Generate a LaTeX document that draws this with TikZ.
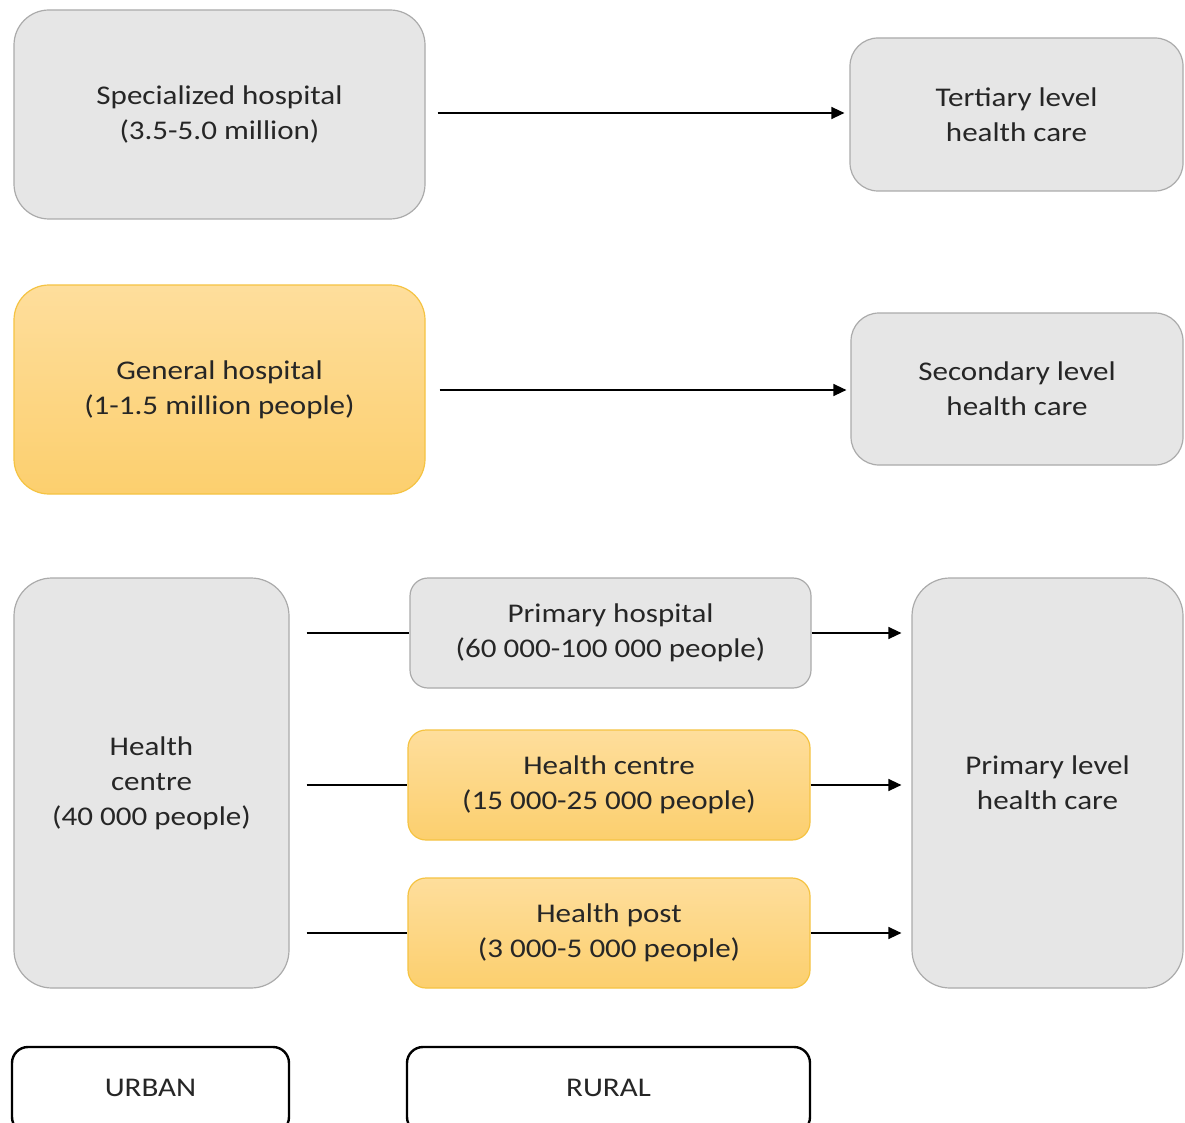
\documentclass[tikz,border=0pt]{standalone}
\usepackage{fontspec}
\setmainfont{Carlito}[FakeStretch=1.15]
\usetikzlibrary{arrows.meta}
\definecolor{boxgray}{HTML}{E6E6E6}
\definecolor{linegray}{HTML}{ABABAB}
\definecolor{orangetop}{HTML}{FEDE9C}
\definecolor{orangebot}{HTML}{FCCF6E}
\definecolor{orangeline}{HTML}{F5C342}
\definecolor{txt}{HTML}{262626}
\begin{document}
\begin{tikzpicture}[x=1pt,y=-1pt,
  base/.style={align=center, text=txt, font=\fontsize{27}{35}\selectfont, inner sep=0pt},
  graybox/.style={base, draw=linegray, line width=1.2pt, fill=boxgray},
  orangebox/.style={base, draw=orangeline, line width=1.2pt, top color=orangetop, bottom color=orangebot},
  labelbox/.style={base, draw=black, line width=2.4pt, fill=white},
  arr/.style={line width=1.3pt, draw=black, -{Triangle[length=13pt,width=12pt]}},
  ln/.style={line width=1.3pt, draw=black}]
\clip (0,0) rectangle (1185,1123);
\fill[white] (0,0) rectangle (1185,1123);

\node[graybox, rounded corners=35pt, minimum width=411pt, minimum height=209pt] (spec) at (219.5,114.5) {Specialized hospital\\(3.5-5.0 million)};
\node[graybox, rounded corners=28pt, minimum width=333pt, minimum height=153pt] (tert) at (1016.5,114.5) {Tertiary level\\health care};
\node[orangebox, rounded corners=35pt, minimum width=411pt, minimum height=209pt] (gen) at (219.5,389.5) {General hospital\\(1-1.5 million people)};
\node[graybox, rounded corners=28pt, minimum width=332pt, minimum height=152pt] (sec) at (1017,389) {Secondary level\\health care};

\node[graybox, rounded corners=38pt, minimum width=275pt, minimum height=410pt] (hcu) at (151.5,783) {Health\\centre\\(40 000 people)};
\node[graybox, rounded corners=18pt, minimum width=401pt, minimum height=110pt] (ph) at (610.5,633) {Primary hospital\\(60 000-100 000 people)};
\node[orangebox, rounded corners=18pt, minimum width=402pt, minimum height=110pt] (hcr) at (609,785) {Health centre\\(15 000-25 000 people)};
\node[orangebox, rounded corners=18pt, minimum width=402pt, minimum height=110pt] (hp) at (609,933) {Health post\\(3 000-5 000 people)};
\node[graybox, rounded corners=38pt, minimum width=271pt, minimum height=410pt] (pl) at (1047.5,783) {Primary level\\health care};

\node[labelbox, rounded corners=16pt, minimum width=277pt, minimum height=86pt] (urban) at (150.5,1090) {};
\node[base] (urbant) at (150.5,1088) {URBAN};
\node[labelbox, rounded corners=16pt, minimum width=403pt, minimum height=86pt] (rural) at (608.5,1090) {};
\node[base] (ruralt) at (608.5,1088) {RURAL};

\draw[arr] ([xshift=12pt]spec.east |- 0,113) -- ([xshift=-5pt]tert.west |- 0,113);
\draw[arr] ([xshift=14pt]gen.east |- 0,390) -- ([xshift=-4pt]sec.west |- 0,390);

\draw[ln] ([xshift=17pt]hcu.east |- ph.west) -- (ph.west);
\draw[ln] ([xshift=17pt]hcu.east |- hcr.west) -- (hcr.west);
\draw[ln] ([xshift=17pt]hcu.east |- hp.west) -- (hp.west);
\draw[arr] (ph.east) -- ([xshift=-10pt]pl.west |- ph.east);
\draw[arr] (hcr.east) -- ([xshift=-10pt]pl.west |- hcr.east);
\draw[arr] (hp.east) -- ([xshift=-10pt]pl.west |- hp.east);
\end{tikzpicture}
\end{document}
